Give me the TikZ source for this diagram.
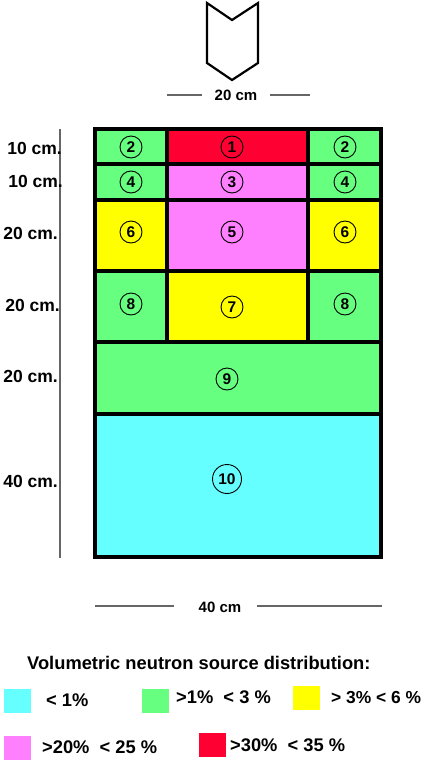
\documentclass[tikz,border=0pt]{standalone}
\usepackage{fontspec}
\setmainfont{Liberation Sans}
\usepackage{xcolor}
\usepackage{tikz}
\usetikzlibrary{positioning}

\definecolor{srccyan}{HTML}{66FFFF}
\definecolor{srcgreen}{HTML}{66FF80}
\definecolor{srcyellow}{HTML}{FFFF00}
\definecolor{srcpink}{HTML}{FF80FF}
\definecolor{srcred}{HTML}{FF0033}

\begin{document}
\begin{tikzpicture}[x=1pt, y=-1pt,
        cell/.style={draw=black, line width=3.5pt},
        num/.style={circle, draw, line width=0.9pt, inner sep=0.5pt, minimum size=22pt,
                    font=\fontsize{15.5}{17}\selectfont\bfseries},
        hlab/.style={font=\fontsize{17.5}{20}\selectfont\bfseries, anchor=east, inner sep=0pt},
        wlab/.style={font=\fontsize{15}{18}\selectfont\bfseries, inner sep=0pt},
        dimline/.style={gray!80!black, line width=1.1pt},
        swatch/.style={rectangle, minimum width=27pt, minimum height=24pt, inner sep=0pt},
        leg/.style={font=\fontsize{18.3}{21}\selectfont\bfseries, inner sep=0pt, anchor=west}
    ]
        \useasboundingbox (0,0) rectangle (425,761);

        % beam entry
        \draw[line width=2.2pt, line join=miter] (207,3) -- (232,20) -- (258,3) -- (258,63)
            -- (232,80) -- (207,63) -- cycle;
        \node[wlab] (top) at (236,95) {20 cm};
        \coordinate (topl) at (167,95);
        \coordinate (topr) at (310,95);
        \draw[dimline] (topl) -- ([xshift=-13pt]top.west |- topl);
        \draw[dimline] ([xshift=13pt]top.east |- topr) -- (topr);

        % cells
        \fill[srcgreen]  (95,129) rectangle (167,164);
        \fill[srcred]    (167,129) rectangle (308,164);
        \fill[srcgreen]  (308,129) rectangle (381,164);
        \fill[srcgreen]  (95,164) rectangle (167,200);
        \fill[srcpink]   (167,164) rectangle (308,200);
        \fill[srcgreen]  (308,164) rectangle (381,200);
        \fill[srcyellow] (95,200) rectangle (167,271);
        \fill[srcpink]   (167,200) rectangle (308,271);
        \fill[srcyellow] (308,200) rectangle (381,271);
        \fill[srcgreen]  (95,271) rectangle (167,342);
        \fill[srcyellow] (167,271) rectangle (308,342);
        \fill[srcgreen]  (308,271) rectangle (381,342);
        \fill[srcgreen]  (95,342) rectangle (381,414);
        \fill[srccyan]   (95,414) rectangle (381,557);

        \draw[cell] (95,129) rectangle (381,557);
        \foreach \y in {164,200,271,342,414}
            \draw[cell] (95,\y) -- (381,\y);
        \draw[cell] (167,129) -- (167,342);
        \draw[cell] (308,129) -- (308,342);

        % zone numbers
        \node[num] (z2a) at (131,147) {2};
        \node[num] (z1)  at (232,147) {1};
        \node[num] (z2b) at (345,147) {2};
        \node[num] (z4a) at (131,182) {4};
        \node[num] (z3)  at (232,182) {3};
        \node[num] (z4b) at (345,182) {4};
        \node[num] (z6a) at (131,232) {6};
        \node[num] (z5)  at (232,232) {5};
        \node[num] (z6b) at (345,232) {6};
        \node[num] (z8a) at (131,304) {8};
        \node[num] (z7)  at (232,307) {7};
        \node[num] (z8b) at (345,304) {8};
        \node[num] (z9)  at (227,379) {9};
        \node[num, minimum size=29pt] (z10) at (227,479) {10};

        % heights
        \coordinate (hl1) at (60,129);
        \coordinate (hl2) at (60,558);
        \draw[dimline] (hl1) -- (hl2);
        \node[hlab] (h1) at (62,148) {10 cm.};
        \node[hlab] (h2) at (63,181) {10 cm.};
        \node[hlab] (h3) at (58,233) {20 cm.};
        \node[hlab] (h4) at (60,305) {20 cm.};
        \node[hlab] (h5) at (58,376) {20 cm.};
        \node[hlab] (h6) at (58,481) {40 cm.};

        % width
        \node[wlab] (bot) at (220,607) {40 cm};
        \coordinate (botl) at (95,606);
        \coordinate (botr) at (382,606);
        \draw[dimline] (botl) -- ([xshift=-25pt]bot.west |- botl);
        \draw[dimline] ([xshift=16pt]bot.east |- botr) -- (botr);

        % legend
        \node[leg] (title) at (27,663) {Volumetric neutron source distribution:};
        \node[swatch, fill=srccyan]   (s1) at (17.5,701) {};
        \node[swatch, fill=srcgreen]  (s2) at (155.5,701) {};
        \node[swatch, fill=srcyellow] (s3) at (306.5,697.5) {};
        \node[swatch, fill=srcpink]   (s4) at (17.5,748) {};
        \node[swatch, fill=srcred]    (s5) at (212.5,744.5) {};
        \node[leg] (l1) at (46,700) {< 1\%};
        \node[leg] (l2) at (176,697) {>1\%~ < 3 \%};
        \node[leg, font=\fontsize{17.4}{20}\selectfont\bfseries] (l3) at (331,698) {> 3\% < 6 \%};
        \node[leg] (l4) at (42,747) {>20\%~ < 25 \%};
        \node[leg] (l5) at (230,745) {>30\%~ < 35 \%};
    \end{tikzpicture}
\end{document}
